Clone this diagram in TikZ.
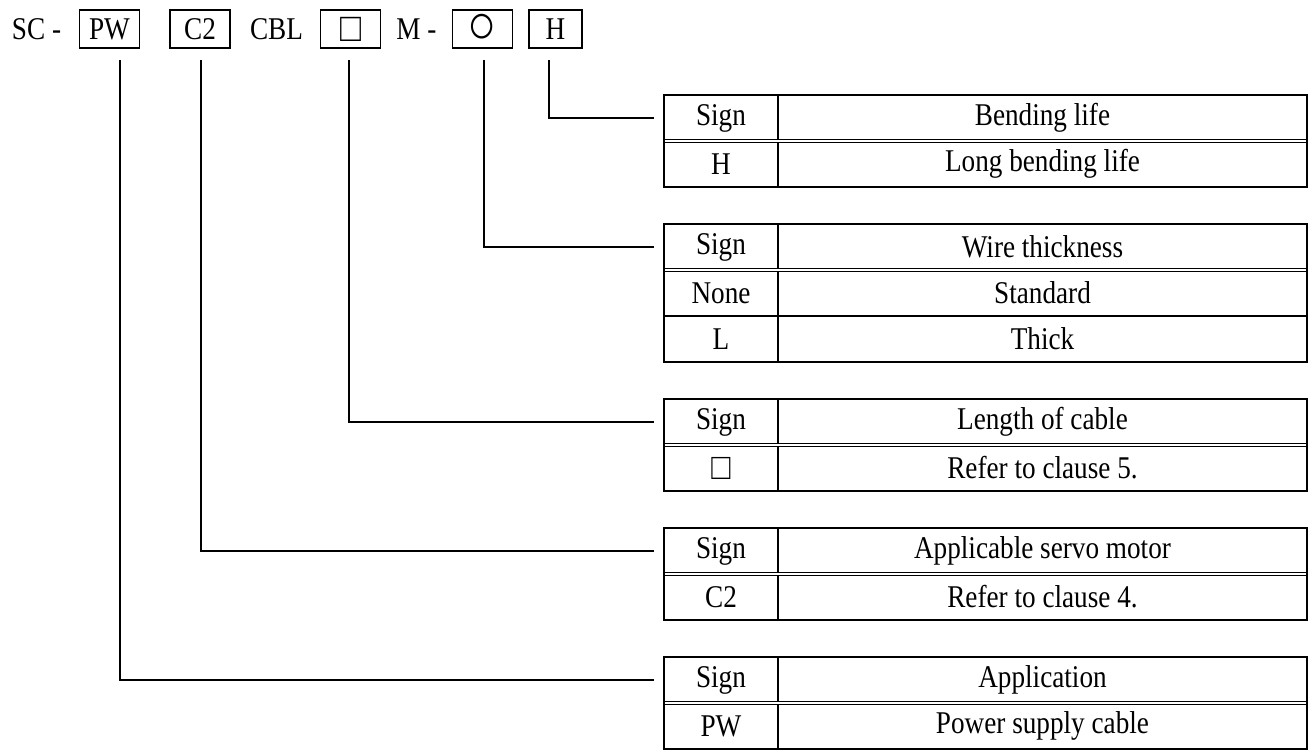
\documentclass[tikz,border=0pt]{standalone}
\usepackage{fontspec}
\setmainfont[FakeStretch=0.86]{Liberation Serif}
\usetikzlibrary{positioning}
\newcommand\sqmark[1][21]{{\fontsize{#1}{#1}\selectfont □}}
\newcommand\ringmark{{\fontsize{32}{32}\selectfont ○}}

\begin{document}
\begin{tikzpicture}[
        font=\fontsize{18}{20}\selectfont,
        every node/.style={align=center, outer sep=0pt, inner sep=0pt},
        codebox/.style={rectangle, draw, line width=1.1pt,
                        minimum width=1.2cm, minimum height=0.76cm},
        signcell/.style={rectangle, draw, line width=0.8pt,
                         minimum width=2.28cm, minimum height=0.92cm,
                         anchor=north west},
        desccell/.style={signcell, minimum width=10.58cm},
        frame/.style={line width=1.2pt},
        hsep/.style={double, line width=0.8pt, double distance=1.2pt},
        leader/.style={line width=0.8pt}
    ]
        \useasboundingbox (0,0) rectangle (26.26,-15.06);

        % --- Model code ---
        \node[anchor=west] (sc) at (0.24,-0.58) {SC -};
        \node[codebox] (bPW) at (2.19,-0.58) {PW};
        \node[codebox] (bC2) at (4.00,-0.58) {C2};
        \node (cbl) at (5.53,-0.58) {CBL};
        \node[codebox] (bLen) at (7.01,-0.58) {\sqmark[23]};
        \node (m) at (8.33,-0.58) {M -};
        \node[codebox] (bWire) at (9.65,-0.58) {\ringmark};
        \node[codebox, minimum width=1.06cm] (bLife) at (11.11,-0.58) {H};

        % --- Bending life ---
        \node[signcell] (lifeS) at (13.28,-1.90) {Sign};
        \node[desccell, right=0pt of lifeS] (lifeD) {Bending life};
        \node[signcell, below=0pt of lifeS] (lifeS1) {H};
        \node[desccell, below=0pt of lifeD] (lifeD1) {Long bending life};
        \draw[hsep] (lifeS.south west) -- (lifeD.south east);
        \draw[frame] (lifeS.north west) rectangle (lifeD1.south east);

        % --- Wire thickness ---
        \node[signcell] (wireS) at (13.28,-4.48) {Sign};
        \node[desccell, right=0pt of wireS] (wireD) {Wire thickness};
        \node[signcell, below=0pt of wireS] (wireS1) {None};
        \node[desccell, below=0pt of wireD] (wireD1) {Standard};
        \node[signcell, below=0pt of wireS1] (wireS2) {L};
        \node[desccell, below=0pt of wireD1] (wireD2) {Thick};
        \draw[hsep] (wireS.south west) -- (wireD.south east);
        \draw[frame] (wireS.north west) rectangle (wireD2.south east);

        % --- Length of cable ---
        \node[signcell] (lenS) at (13.28,-7.98) {Sign};
        \node[desccell, right=0pt of lenS] (lenD) {Length of cable};
        \node[signcell, below=0pt of lenS] (lenS1) {\sqmark};
        \node[desccell, below=0pt of lenD] (lenD1) {Refer to clause 5.};
        \draw[hsep] (lenS.south west) -- (lenD.south east);
        \draw[frame] (lenS.north west) rectangle (lenD1.south east);

        % --- Applicable servo motor ---
        \node[signcell] (motS) at (13.28,-10.56) {Sign};
        \node[desccell, right=0pt of motS] (motD) {Applicable servo motor};
        \node[signcell, below=0pt of motS] (motS1) {C2};
        \node[desccell, below=0pt of motD] (motD1) {Refer to clause 4.};
        \draw[hsep] (motS.south west) -- (motD.south east);
        \draw[frame] (motS.north west) rectangle (motD1.south east);

        % --- Application ---
        \node[signcell] (appS) at (13.28,-13.14) {Sign};
        \node[desccell, right=0pt of appS] (appD) {Application};
        \node[signcell, below=0pt of appS] (appS1) {PW};
        \node[desccell, below=0pt of appD] (appD1) {Power supply cable};
        \draw[hsep] (appS.south west) -- (appD.south east);
        \draw[frame] (appS.north west) rectangle (appD1.south east);

        % --- Leaders ---
        \draw[leader] ([xshift=-0.13cm,yshift=-0.24cm]bLife.south) |- ([xshift=-0.2cm]lifeS.west);
        \draw[leader] ([xshift=0.03cm,yshift=-0.24cm]bWire.south) |- ([xshift=-0.2cm]wireS.west);
        \draw[leader] ([xshift=-0.03cm,yshift=-0.24cm]bLen.south) |- ([xshift=-0.2cm]lenS.west);
        \draw[leader] ([xshift=0.02cm,yshift=-0.24cm]bC2.south) |- ([xshift=-0.2cm]motS.west);
        \draw[leader] ([xshift=0.21cm,yshift=-0.24cm]bPW.south) |- ([xshift=-0.2cm]appS.west);
    \end{tikzpicture}
\end{document}
